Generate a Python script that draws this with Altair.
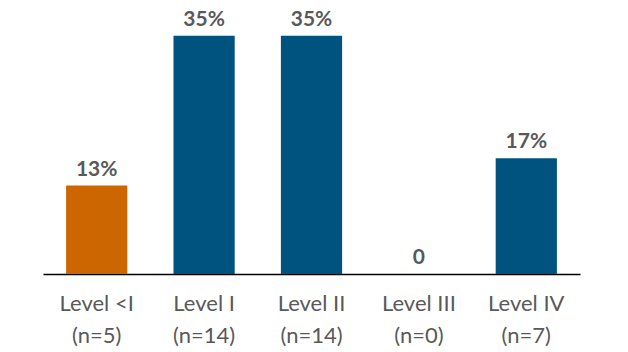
import altair as alt
import pandas as pd

categories = ["Level <I\n(n=5)", "Level I\n(n=14)", "Level II\n(n=14)", "Level III\n(n=0)", "Level IV\n(n=7)"]
values = [13, 35, 35, 0, 17]
value_labels = ["13%", "35%", "35%", "0", "17%"]
groups = ["below", "level", "level", "level", "level"]

df = pd.DataFrame({"cat": categories, "val": values, "lab": value_labels, "grp": groups})

x = alt.X("cat:N", sort=categories,
          scale=alt.Scale(paddingInner=0.43, paddingOuter=0.215),
          axis=alt.Axis(title=None, labelExpr="split(datum.label, '\\n')", labelAngle=0,
                        labelFont="Lato", labelFontSize=22, labelColor="#595959",
                        labelPadding=19, labelLineHeight=32, ticks=False,
                        domainColor="#000000", domainWidth=1.5, grid=False))
y = alt.Y("val:Q", scale=alt.Scale(domain=[0, 38.8], nice=False), axis=None)

bars = alt.Chart(df).mark_bar().encode(
    x=x, y=y,
    color=alt.Color("grp:N", scale=alt.Scale(domain=["below", "level"], range=["#CC6600", "#00527F"]), legend=None),
)
text = alt.Chart(df).mark_text(dy=-16, font="Lato", fontSize=21, fontWeight="bold", color="#595959").encode(
    x=alt.X("cat:N", sort=categories), y=y, text="lab:N")

chart = (bars + text).properties(
    width=537, height=264,
    padding={"left": 43, "top": 10, "right": 48, "bottom": 78},
    autosize=alt.AutoSizeParams(type="none"),
).configure_view(stroke=None)

chart.save("out.html", embed_options={"renderer": "svg", "actions": False})
